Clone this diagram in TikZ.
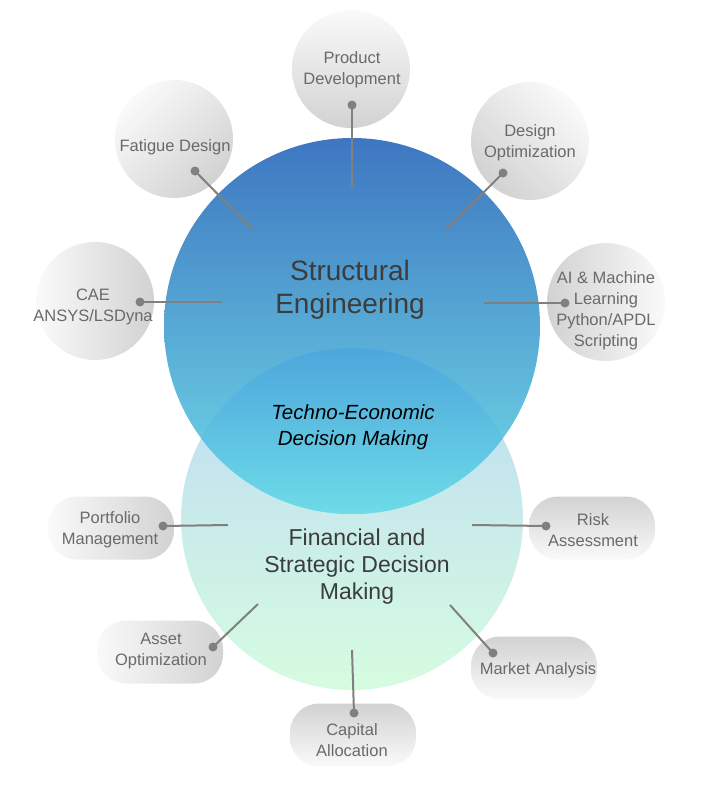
\documentclass[tikz,border=0pt]{standalone}
\usepackage{fontspec}
\setmainfont{Liberation Sans}
\definecolor{topA}{HTML}{3E76C1}
\definecolor{topB}{HTML}{70DCE8}
\definecolor{lensA}{HTML}{4DA6DC}
\definecolor{lensB}{HTML}{6EDCE8}
\definecolor{botA}{HTML}{BCDAF5}
\definecolor{botB}{HTML}{D6FCE0}
\definecolor{satL}{HTML}{FAFAFA}
\definecolor{satD}{HTML}{D2D2D2}
\definecolor{lineC}{HTML}{808080}
\definecolor{satT}{HTML}{6A6A6A}
\definecolor{mainT}{HTML}{3C3C3C}
\begin{document}
\begin{tikzpicture}[x=1pt,y=-1pt,
  satcirc/.style={circle,minimum size=118pt,inner sep=0pt,top color=satL,bottom color=satD},
  satpill/.style={rectangle,rounded corners=29pt,minimum width=126pt,minimum height=63pt,inner sep=0pt,left color=satL,right color=satD},
  sattext/.style={align=center,text=satT,font=\fontsize{16.5}{21}\selectfont,inner sep=0pt},
  conn/.style={draw=lineC,line width=2pt},
  dotc/.style={fill=lineC}
]
\useasboundingbox (0,0) rectangle (708,785);
% big circles
\coordinate (topc) at (352,326);
\coordinate (botc) at (352,519);
\shade[top color=botA,bottom color=botB] (botc) circle[radius=171pt];
\shade[top color=topA,bottom color=topB] (topc) circle[radius=188pt];
\begin{scope}
  \clip (botc) circle[radius=171pt];
  \clip (topc) circle[radius=188pt];
  \shade[top color=lensA,bottom color=lensB] (160,347) rectangle (545,516);
\end{scope}
% main texts
\node[align=center,text=mainT,font=\fontsize{28}{33}\selectfont] (se) at (350,290) {Structural\\Engineering};
\node[align=center,text=black,font=\fontsize{20.5}{26}\selectfont\itshape] (te) at (353,427) {Techno-Economic\\Decision Making};
\node[align=center,text=mainT,font=\fontsize{23}{27}\selectfont] (fs) at (357,567) {Financial and\\Strategic Decision\\Making};
% satellite circles
\node[satcirc,shading angle=0] (pdC) at (351,69) {};
\node[satcirc,shading angle=45] (fatC) at (174,139) {};
\node[satcirc,shading angle=-45] (doC) at (530,141) {};
\node[satcirc,shading angle=90] (caeC) at (95,301) {};
\node[satcirc,shading angle=-90] (aiC) at (606,302) {};
% satellite pills
\node[satpill] (pmC) at (111,528) {};
\node[satpill,shading angle=180] (raC) at (592,528) {};
\node[satpill] (aoC) at (160,652) {};
\node[satpill,shading angle=180] (maC) at (534,668) {};
\node[satpill,shading angle=180] (caC) at (353,735) {};
% satellite texts
\node[sattext] (pd) at (352,70) {Product\\Development};
\node[sattext] (fat) at (175,147) {Fatigue Design};
\node[sattext] (do) at (530,143) {Design\\Optimization};
\node[sattext] (cae) at (93,307) {CAE\\ANSYS/LSDyna};
\node[sattext] (ai) at (606,311) {AI \& Machine\\Learning\\Python/APDL\\Scripting};
\node[sattext] (pm) at (110,530) {Portfolio\\Management};
\node[sattext] (ra) at (593,530) {Risk\\Assessment};
\node[sattext] (ao) at (161,651) {Asset\\Optimization};
\node[sattext] (ma) at (538,670) {Market Analysis};
\node[sattext] (ca) at (352,740) {Capital\\Allocation};
% connector ends
\coordinate (pdD) at (352,105);  \coordinate (pdI) at (352,187);
\coordinate (fatD) at (195,171); \coordinate (fatI) at (252,229);
\coordinate (doD) at (503,173);  \coordinate (doI) at (446,230);
\coordinate (caeD) at (140,302); \coordinate (caeI) at (222,302);
\coordinate (aiD) at (565,303);  \coordinate (aiI) at (484,303);
\coordinate (pmD) at (163,526);  \coordinate (pmI) at (228,525);
\coordinate (raD) at (546,526);  \coordinate (raI) at (472,525);
\coordinate (aoD) at (213,647);  \coordinate (aoI) at (258,604);
\coordinate (maD) at (493,653);  \coordinate (maI) at (450,605);
\coordinate (caD) at (354,713);  \coordinate (caI) at (352,650);
\foreach \n in {pd,fat,do,cae,ai,pm,ra,ao,ma,ca}{
  \draw[conn] (\n I) -- (\n D);
  \fill[dotc] (\n D) circle[radius=4.5pt];
}
\end{tikzpicture}
\end{document}
